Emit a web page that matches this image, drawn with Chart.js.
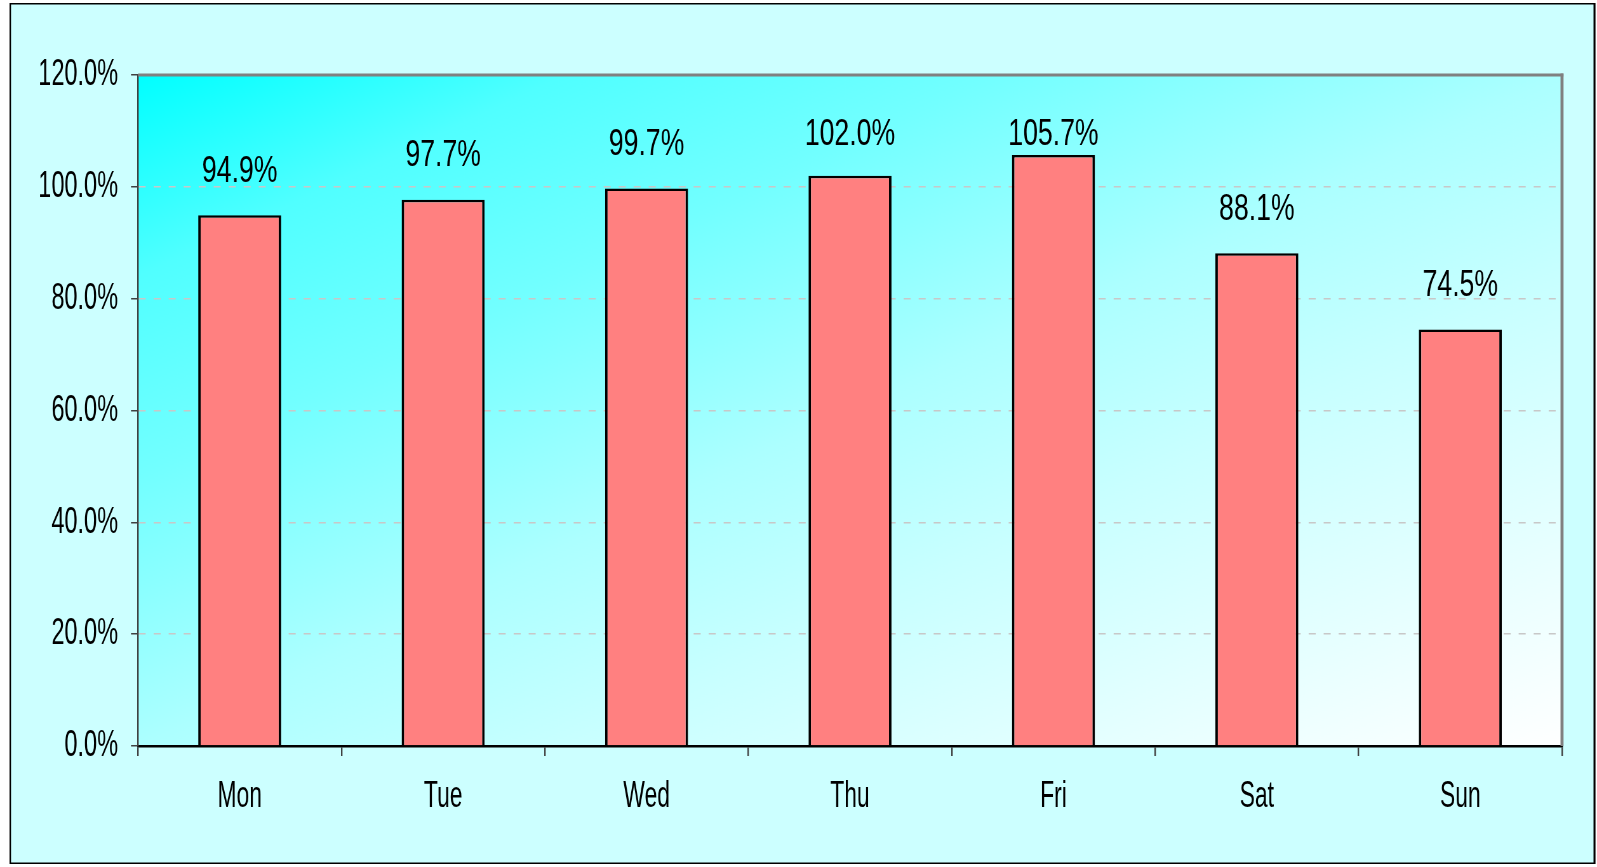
<!DOCTYPE html>
<html lang="en">
<head>
    <meta charset="UTF-8">
    <title>Daily ratio</title>
    <script src="https://cdn.jsdelivr.net/npm/chart.js"></script>
    <style>
        html, body { margin: 0; padding: 0; background: #fff; overflow: hidden; }
        /* canvas is drawn wide and squeezed back to the window, gives the narrow lettering */
        #myChart { display: block; width: 1597px; height: 867px; }
    </style>
</head>
<body>
    <canvas id="myChart" width="2515" height="867" style="width:1597px;height:867px"></canvas>

    <script>
        // data
        var days = ['Mon', 'Tue', 'Wed', 'Thu', 'Fri', 'Sat', 'Sun'];
        var ratios = [94.9, 97.7, 99.7, 102.0, 105.7, 88.1, 74.5];
        var yMin = 0, yMax = 120, yStep = 20;

        var FONT = "'Liberation Sans', Arial, sans-serif";
        var SX = 1597 / 2515;          // horizontal squeeze of the canvas
        function px(x) { return x / SX; }  // screen px -> canvas px (horizontal only)

        var backdrop = {
            id: 'backdrop',
            beforeDraw: function(chart) {
                var c = chart.ctx, a = chart.chartArea;
                c.save();
                c.fillStyle = '#ffffff';
                c.fillRect(0, 0, chart.width, chart.height);
                // outer panel with black frame
                c.fillStyle = '#000';
                c.fillRect(px(9.5), 3, px(1586), 861);
                c.fillStyle = '#ccffff';
                c.fillRect(px(11), 4.5, px(1582.5), 858);

                // excel style diagonal fill, stretched to the plot box
                c.translate(a.left, a.top);
                c.scale(a.right - a.left, a.bottom - a.top);
                var g = c.createLinearGradient(0, 0, 1, 1);
                g.addColorStop(0, '#00ffff');
                g.addColorStop(0.15, '#50ffff');
                g.addColorStop(0.3, '#72ffff');
                g.addColorStop(0.5, '#acffff');
                g.addColorStop(0.65, '#c8ffff');
                g.addColorStop(1, '#ffffff');
                c.fillStyle = g;
                c.fillRect(0, 0, 1, 1);
                c.restore();
            },
            afterDatasetsDraw: function(chart) {
                var c = chart.ctx, a = chart.chartArea;
                c.save();
                // grey top / right edge of the plot
                c.fillStyle = '#808080';
                c.fillRect(a.left, a.top - 1.5, a.right - a.left + px(1.5), 3);
                c.fillRect(a.right - px(1.5), a.top - 1.5, px(3), a.bottom - a.top + 1.5);

                // value labels over the bars (a bit less squeezed than the axes)
                c.fillStyle = '#000';
                c.font = '37px ' + FONT;
                c.textAlign = 'center';
                c.textBaseline = 'middle';
                chart.getDatasetMeta(0).data.forEach(function(bar, i) {
                    var y = Math.max(bar.y - 44, a.top + 60);
                    c.save();
                    c.translate(bar.x, y);
                    c.scale(0.72 / SX, 1);
                    c.fillText(ratios[i].toFixed(1) + '%', 0, 0);
                    c.restore();
                });
                c.restore();
            }
        };

        var ctx = document.getElementById('myChart').getContext('2d');
        var myChart = new Chart(ctx, {
            type: 'bar',
            data: {
                labels: days,
                datasets: [{
                    data: ratios,
                    backgroundColor: '#ff8080',
                    borderColor: '#000000',
                    borderWidth: { top: 2.5, left: px(2.5), right: px(2.5), bottom: 0 },
                    categoryPercentage: 1,
                    barPercentage: 0.408
                }]
            },
            options: {
                responsive: false,
                devicePixelRatio: 1,
                animation: false,
                layout: { padding: { top: 75, right: 2515 - px(1562), bottom: 0, left: 0 } },
                plugins: {
                    legend: { display: false },
                    tooltip: { enabled: false }
                },
                scales: {
                    x: {
                        afterFit: function(s) { s.height = 121; },
                        grid: {
                            drawOnChartArea: false,
                            tickLength: 10,
                            tickColor: '#404040',
                            lineWidth: px(1.5)
                        },
                        border: { color: '#000', width: 2.5 },
                        ticks: {
                            color: '#000',
                            padding: 19,
                            font: { family: FONT, size: 36 }
                        }
                    },
                    y: {
                        min: yMin,
                        max: yMax,
                        afterFit: function(s) { s.width = px(138); },
                        grid: {
                            color: function(c) {
                                var v = c.tick ? c.tick.value : null;
                                return (v === yMin || v === yMax) ? 'rgba(0,0,0,0)' : '#c8c8c8';
                            },
                            lineWidth: 1.5,
                            tickLength: px(7),
                            tickColor: '#404040',
                            tickBorderDash: []
                        },
                        border: { color: '#404040', width: px(1.5), dash: [px(7), px(8)] },
                        ticks: {
                            stepSize: yStep,
                            color: '#000',
                            padding: px(13),
                            font: { family: FONT, size: 37 },
                            callback: function(v) { return v.toFixed(1) + '%'; }
                        }
                    }
                }
            },
            plugins: [backdrop]
        });
    </script>
</body>
</html>
